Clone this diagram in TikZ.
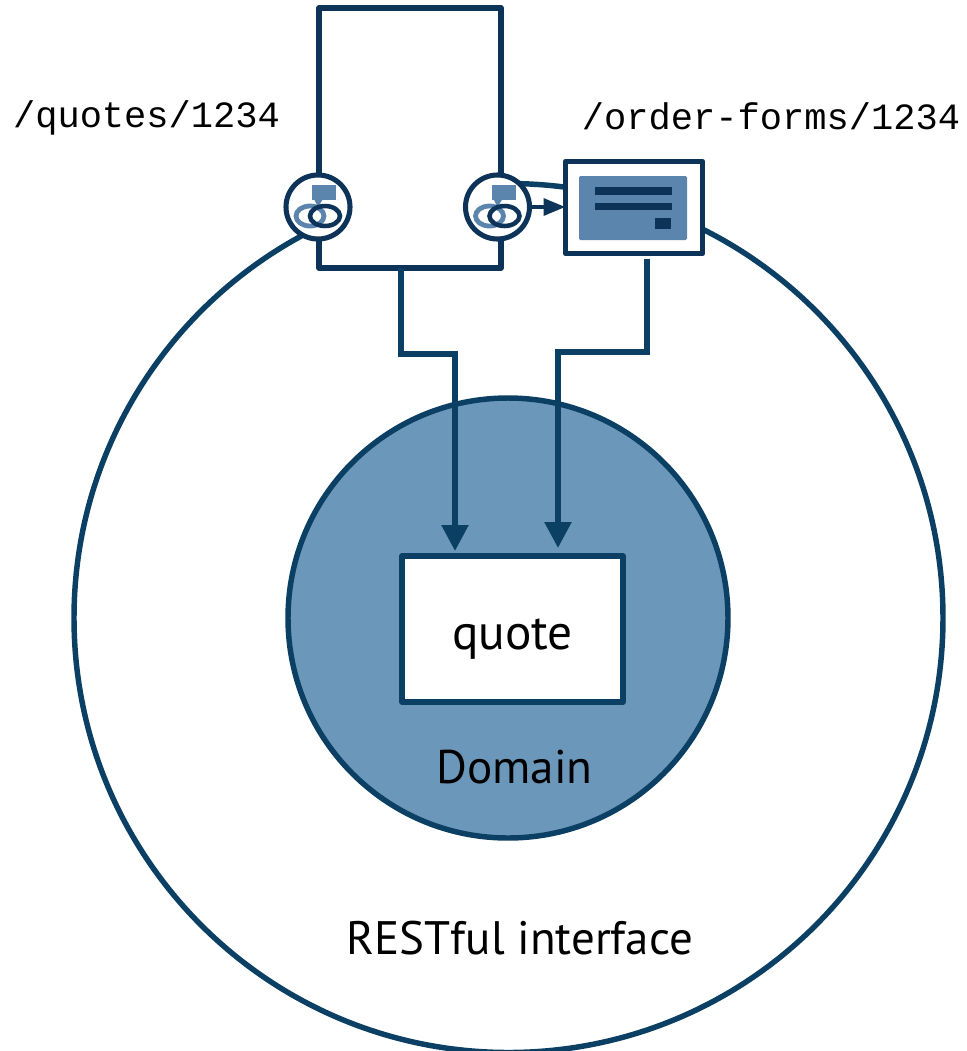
\documentclass[tikz,border=0pt]{standalone}
\usepackage{fontspec}
\setmainfont{PT Sans}
\setmonofont{Liberation Mono}
\definecolor{navy}{HTML}{0E3358}
\definecolor{teal}{HTML}{0B4064}
\definecolor{dom}{HTML}{6B98BA}
\definecolor{icon}{HTML}{5C85AD}
\usetikzlibrary{arrows.meta,calc}
\tikzset{
  x=0.75pt,y=-0.75pt,
  ring/.style={circle,draw=teal,line width=4.1pt,inner sep=0pt,outer sep=0pt},
  boxed/.style={rectangle,draw=#1,fill=white,line width=4.1pt,inner sep=0pt,outer sep=0pt,line join=round},
  lolly/.style={circle,draw=navy,fill=white,line width=3.8pt,minimum size=64*0.75pt,inner sep=0pt,outer sep=0pt},
  conn/.style={draw=teal,line width=4.1pt,-{Triangle[length=19.5pt,width=19.5pt]}},
  sans/.style={text=black,inner sep=0pt},
  mono/.style={font=\ttfamily\fontsize{27.8}{32}\selectfont,text=black,inner sep=0pt},
  pics/listen/.style={code={
    \fill[icon] (-6,-22) rectangle (18,-7);
    \fill[icon] (-4,-8) -- (5,-8) -- (0,0) -- cycle;
    \draw[icon,line width=3.6pt] (-8,9) ellipse (14 and 10);
    \draw[navy,line width=3.4pt] (7,9) ellipse (15 and 10);
  }}
}
\begin{document}
\begin{tikzpicture}
\useasboundingbox (0,0) rectangle (967,1051);
\clip (0,0) rectangle (967,1051);
\fill[white] (0,0) rectangle (967,1051);
\node[ring,fill=white,minimum size=869*0.75pt] (iface) at (508.5,618) {};
\node[ring,fill=dom,minimum size=440*0.75pt] (domain) at (508,618) {};
\node[boxed=teal,minimum width=221*0.75pt,minimum height=146*0.75pt] (quote) at (512.5,629) {};
\node[sans,font=\fontsize{37}{44}\selectfont] (quotetxt) at (512.5,639) {quote};
\node[sans,font=\fontsize{35.4}{42}\selectfont] (domtxt) at (514.5,767) {Domain};
\node[sans,font=\fontsize{35.2}{42}\selectfont] (resttxt) at (520,938) {RESTful interface};
\node[boxed=navy,minimum width=182*0.75pt,minimum height=260*0.75pt] (res) at (410,138) {};
\node[boxed=navy,minimum width=137*0.75pt,minimum height=92*0.75pt] (doc) at (634,207.5) {};
\fill[icon,rounded corners=1pt] (579,176) rectangle (687,240);
\fill[navy] (595,187) rectangle (672,195);
\fill[navy] (595,203) rectangle (672,210);
\fill[navy] (655,218) rectangle (671,229);
\node[lolly] (lolA) at (318,207) {};
\node[lolly] (lolB) at (497.5,207) {};
\pic at (lolA) {listen};
\pic at (lolB) {listen};
\node[mono] (l1) at (146.5,118) {/quotes/1234};
\node[mono] (l2) at (771,116) {/order-forms/1234};
\coordinate (s1) at ($(res.south west)+(82,0)$);
\coordinate (t1) at ($(quote.north west)+(53,-5)$);
\coordinate (s2) at ($(doc.south west)+(81.5,5)$);
\coordinate (t2) at ($(quote.north west)+(156,-8)$);
\draw[conn] (s1) |- (455,354) -- (t1);
\draw[conn] (s2) |- (558,352) -- (t2);
\draw[draw=navy,line width=3.2pt,-{Triangle[length=16.5pt,width=12.5pt]}] (lolB) ++(32,0) -- (doc.west |- lolB);
\end{tikzpicture}
\end{document}
